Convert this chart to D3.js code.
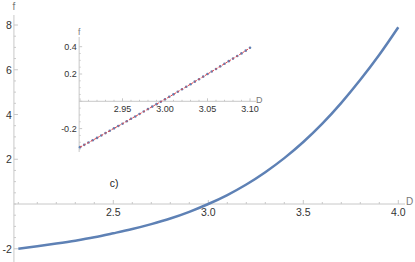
<!DOCTYPE html>
<html>
<head>
<meta charset="utf-8">
<script src="https://d3js.org/d3.v7.min.js"></script>
<style>
  body { margin: 0; background: #fff; }
  svg { display: block; font-family: "Liberation Sans", Arial, sans-serif; }
  .tick-label { fill: #333; }
  .ax-label { fill: #777; }
</style>
</head>
<body>
<div id="chart"></div>
<script>
// main curve f(D)
var mainD = [2.0, 2.1, 2.2, 2.3, 2.4, 2.5, 2.6, 2.7, 2.8, 2.9, 3.0,
             3.1, 3.2, 3.3, 3.4, 3.5, 3.6, 3.7, 3.8, 3.9, 4.0];
var mainF = [-2.00, -1.89, -1.77, -1.64, -1.49, -1.31, -1.12, -0.90, -0.65, -0.35, 0.00,
             0.40, 0.87, 1.42, 2.05, 2.77, 3.59, 4.52, 5.55, 6.67, 7.90];
var mainXTicks = [2.5, 3.0, 3.5, 4.0];
var mainYTicks = [-2, 2, 4, 6, 8];

// inset: sampled points (dots) and fitted line (dashed)
var insetD = [2.900, 2.905, 2.910, 2.915, 2.920, 2.925, 2.930, 2.935, 2.940, 2.945,
              2.950, 2.955, 2.960, 2.965, 2.970, 2.975, 2.980, 2.985, 2.990, 2.995,
              3.000, 3.005, 3.010, 3.015, 3.020, 3.025, 3.030, 3.035, 3.040, 3.045,
              3.050, 3.055, 3.060, 3.065, 3.070, 3.075, 3.080, 3.085, 3.090, 3.095, 3.100];
var insetF = [-0.336, -0.319, -0.302, -0.285, -0.268, -0.251, -0.233, -0.216, -0.198, -0.181,
              -0.164, -0.146, -0.128, -0.111, -0.093, -0.075, -0.057, -0.039, -0.021, -0.003,
              0.015, 0.033, 0.051, 0.070, 0.088, 0.107, 0.125, 0.144, 0.162, 0.181,
              0.200, 0.218, 0.237, 0.256, 0.275, 0.294, 0.313, 0.332, 0.351, 0.371, 0.392];
var insetXTicks = [2.95, 3.00, 3.05, 3.10];
var insetYTicks = [-0.2, 0.2, 0.4];

var width = 415, height = 262;
var axisColor = '#c8c8c8';
var blue = '#5E81B5';
var red = '#E8474C';

var svg = d3.select('#chart').append('svg')
    .attr('width', width).attr('height', height);

// ---------- main plot ----------
var x = d3.scaleLinear().domain([3, 4]).range([208.3, 398.3]);
var y = d3.scaleLinear().domain([0, 8]).range([204, 25]);
var x0 = x(1.977), y0 = y(0);

var gMain = svg.append('g');

// axis lines
gMain.append('line').attr('x1', x0).attr('x2', 405).attr('y1', y0).attr('y2', y0)
    .attr('stroke', axisColor);
gMain.append('line').attr('x1', x0).attr('x2', x0).attr('y1', 15).attr('y2', height)
    .attr('stroke', axisColor);

// x ticks (major + minor)
var xMinor = d3.range(20, 41).map(function(d){ return d / 10; });
gMain.selectAll('.xminor').data(xMinor).enter().append('line')
    .attr('x1', function(d){ return x(d); }).attr('x2', function(d){ return x(d); })
    .attr('y1', y0).attr('y2', function(d){ return mainXTicks.indexOf(d) >= 0 ? y0 - 4 : y0 - 2; })
    .attr('stroke', axisColor);
gMain.selectAll('.xlab').data(mainXTicks).enter().append('text')
    .attr('class', 'tick-label')
    .attr('x', function(d){ return x(d); }).attr('y', y0 + 12)
    .attr('text-anchor', 'middle').attr('font-size', 10.5)
    .text(function(d){ return d.toFixed(1); });

// y ticks
var yMinor = d3.range(-4, 17).map(function(d){ return d / 2; });
gMain.selectAll('.yminor').data(yMinor).enter().append('line')
    .attr('x1', x0).attr('x2', function(d){ return mainYTicks.indexOf(d) >= 0 ? x0 + 4 : x0 + 2; })
    .attr('y1', function(d){ return y(d); }).attr('y2', function(d){ return y(d); })
    .attr('stroke', axisColor);
gMain.selectAll('.ylab').data(mainYTicks).enter().append('text')
    .attr('class', 'tick-label')
    .attr('x', x0 - 2).attr('y', function(d){ return y(d) + 4; })
    .attr('text-anchor', 'end').attr('font-size', 10.5)
    .text(function(d){ return d < 0 ? '-' + Math.abs(d) : d; });

// axis labels
gMain.append('text').attr('class', 'ax-label').attr('x', x0).attr('y', 10)
    .attr('text-anchor', 'middle').attr('font-size', 10).text('f');
gMain.append('text').attr('class', 'ax-label').attr('x', 406).attr('y', y0 + 1)
    .attr('font-size', 10).text('D');

// curve
var mainData = mainD.map(function(d, i){ return [d, mainF[i]]; });
gMain.append('path').datum(mainData)
    .attr('fill', 'none').attr('stroke', blue).attr('stroke-width', 2.5)
    .attr('d', d3.line().curve(d3.curveCatmullRom)
        .x(function(d){ return x(d[0]); }).y(function(d){ return y(d[1]); }));

gMain.append('text').attr('x', 114).attr('y', 187)
    .attr('text-anchor', 'middle').attr('font-size', 10.5).attr('fill', '#222').text('c)');

// ---------- inset ----------
var ix = d3.scaleLinear().domain([2.9, 3.1]).range([80, 250]);
var iy = d3.scaleLinear().domain([0, 0.4]).range([101.3, 46.7]);
var ix0 = ix(2.899), iy0 = iy(0);

var gIn = svg.append('g');
gIn.append('line').attr('x1', ix0).attr('x2', 256).attr('y1', iy0).attr('y2', iy0)
    .attr('stroke', axisColor);
gIn.append('line').attr('x1', ix0).attr('x2', ix0).attr('y1', 37).attr('y2', 152)
    .attr('stroke', axisColor);

var ixMinor = d3.range(290, 311).map(function(d){ return d / 100; });
gIn.selectAll('.ixminor').data(ixMinor).enter().append('line')
    .attr('x1', function(d){ return ix(d); }).attr('x2', function(d){ return ix(d); })
    .attr('y1', iy0).attr('y2', function(d){ return (Math.round(d * 100) % 5 === 0) ? iy0 - 3 : iy0 - 1.5; })
    .attr('stroke', axisColor);
gIn.selectAll('.ixlab').data(insetXTicks).enter().append('text')
    .attr('class', 'tick-label')
    .attr('x', function(d){ return ix(d); }).attr('y', iy0 + 10.5)
    .attr('text-anchor', 'middle').attr('font-size', 9)
    .text(function(d){ return d.toFixed(2); });

var iyMinor = d3.range(-7, 9).map(function(d){ return d / 20; });
gIn.selectAll('.iyminor').data(iyMinor).enter().append('line')
    .attr('x1', ix0).attr('x2', function(d){ return (Math.round(d * 20) % 4 === 0) ? ix0 + 3 : ix0 + 1.5; })
    .attr('y1', function(d){ return iy(d); }).attr('y2', function(d){ return iy(d); })
    .attr('stroke', axisColor);
gIn.selectAll('.iylab').data(insetYTicks).enter().append('text')
    .attr('class', 'tick-label')
    .attr('x', ix0 - 2.5).attr('y', function(d){ return iy(d) + 3.2; })
    .attr('text-anchor', 'end').attr('font-size', 9)
    .text(function(d){ return d < 0 ? '-' + Math.abs(d).toFixed(1) : d.toFixed(1); });

gIn.append('text').attr('class', 'ax-label').attr('x', ix0).attr('y', 35)
    .attr('text-anchor', 'middle').attr('font-size', 8.5).text('f');
gIn.append('text').attr('class', 'ax-label').attr('x', 256).attr('y', iy0 + 2)
    .attr('font-size', 9).text('D');

var insetData = insetD.map(function(d, i){ return [d, insetF[i]]; });
gIn.selectAll('.dot').data(insetData).enter().append('circle')
    .attr('cx', function(d){ return ix(d[0]); }).attr('cy', function(d){ return iy(d[1]); })
    .attr('r', 1.3).attr('fill', blue);
gIn.append('path').datum(insetData)
    .attr('fill', 'none').attr('stroke', red).attr('stroke-width', 1)
    .attr('stroke-dasharray', '2.5,1.5')
    .attr('d', d3.line().x(function(d){ return ix(d[0]); }).y(function(d){ return iy(d[1]); }));
</script>
</body>
</html>
